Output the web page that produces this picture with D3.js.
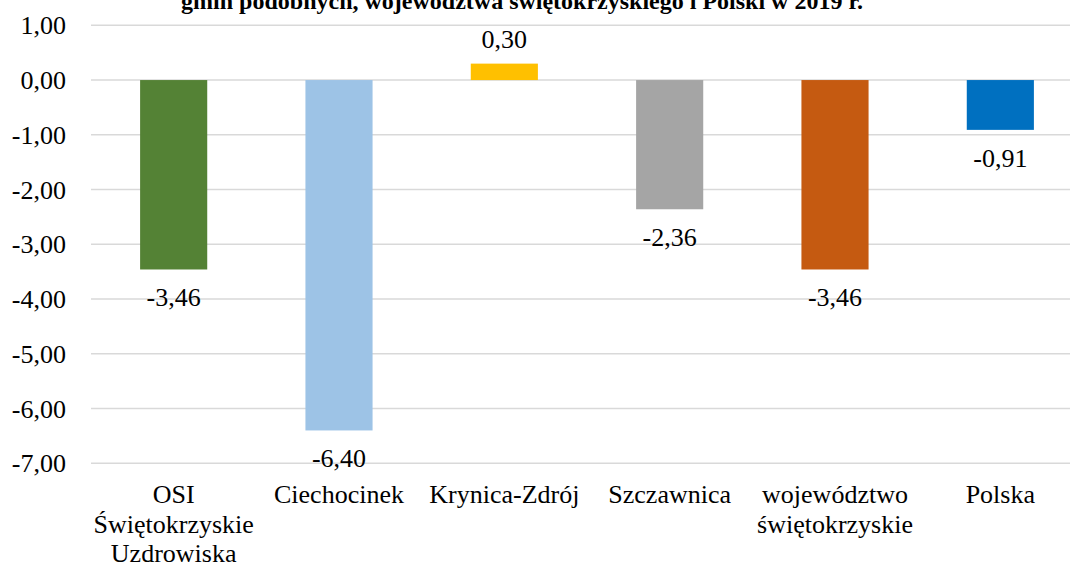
<!DOCTYPE html>
<html>
<head>
<meta charset="utf-8">
<script src="https://cdn.jsdelivr.net/npm/d3@7"></script>
</head>
<body style="margin:0">
<svg id="chart" width="1070" height="565"></svg>
<script>
const categories = [
    ["OSI", "Świętokrzyskie", "Uzdrowiska"],
    ["Ciechocinek"],
    ["Krynica-Zdrój"],
    ["Szczawnica"],
    ["województwo", "świętokrzyskie"],
    ["Polska"]
];
const values = [-3.46, -6.40, 0.30, -2.36, -3.46, -0.91];
const colors = ["#548235", "#9DC3E6", "#FFC000", "#A5A5A5", "#C55A11", "#0070C0"];
const yTicks = [1, 0, -1, -2, -3, -4, -5, -6, -7];
const titleText = "gmin podobnych, województwa świętokrzyskiego i Polski w 2019 r.";

const width = 1070;
const font = "'Times New Roman', 'Liberation Serif'";

const fmt = v => v.toFixed(2).replace(".", ",");

const svg = d3.select("#chart");

const x = d3.scaleBand()
    .domain(d3.range(values.length))
    .range([91, 1083])
    .paddingInner(0.594)
    .paddingOuter(0.297);

const y = d3.scaleLinear()
    .domain([-7, 1])
    .range([463.3, 25.3]);

// Gridlines
svg.append("g")
    .selectAll("line")
    .data(yTicks)
    .join("line")
        .attr("x1", 91)
        .attr("x2", width)
        .attr("y1", d => y(d))
        .attr("y2", d => y(d))
        .attr("stroke", "#d9d9d9")
        .attr("stroke-width", 1.5);

// Bars
svg.append("g")
    .selectAll("rect")
    .data(values)
    .join("rect")
        .attr("x", (d, i) => x(i))
        .attr("width", x.bandwidth())
        .attr("y", d => y(Math.max(0, d)))
        .attr("height", d => Math.abs(y(d) - y(0)))
        .attr("fill", (d, i) => colors[i]);

// Title (first line is cut off in the original)
svg.append("text")
    .attr("x", 522)
    .attr("y", 9)
    .attr("text-anchor", "middle")
    .attr("font-family", font)
    .attr("font-weight", "bold")
    .attr("font-size", 24)
    .text(titleText);

// Y axis labels
svg.append("g")
    .selectAll("text")
    .data(yTicks)
    .join("text")
        .attr("x", 66)
        .attr("y", d => y(d) + 9)
        .attr("text-anchor", "end")
        .attr("font-family", font)
        .attr("font-size", 26)
        .text(d => fmt(d));

// Value labels
svg.append("g")
    .selectAll("text")
    .data(values)
    .join("text")
        .attr("x", (d, i) => x(i) + x.bandwidth() / 2)
        .attr("y", d => d < 0 ? y(d) + 37 : y(d) - 16)
        .attr("text-anchor", "middle")
        .attr("font-family", font)
        .attr("font-size", 26)
        .text(d => fmt(d));

// Category labels, one text per line
const lines = categories.flatMap((c, i) => c.map((line, j) => ({ line, i, j })));
svg.append("g")
    .selectAll("text")
    .data(lines)
    .join("text")
        .attr("x", d => x(d.i) + x.bandwidth() / 2)
        .attr("y", d => 503 + d.j * 29.5)
        .attr("text-anchor", "middle")
        .attr("font-family", font)
        .attr("font-size", 26)
        .text(d => d.line);
</script>
</body>
</html>
